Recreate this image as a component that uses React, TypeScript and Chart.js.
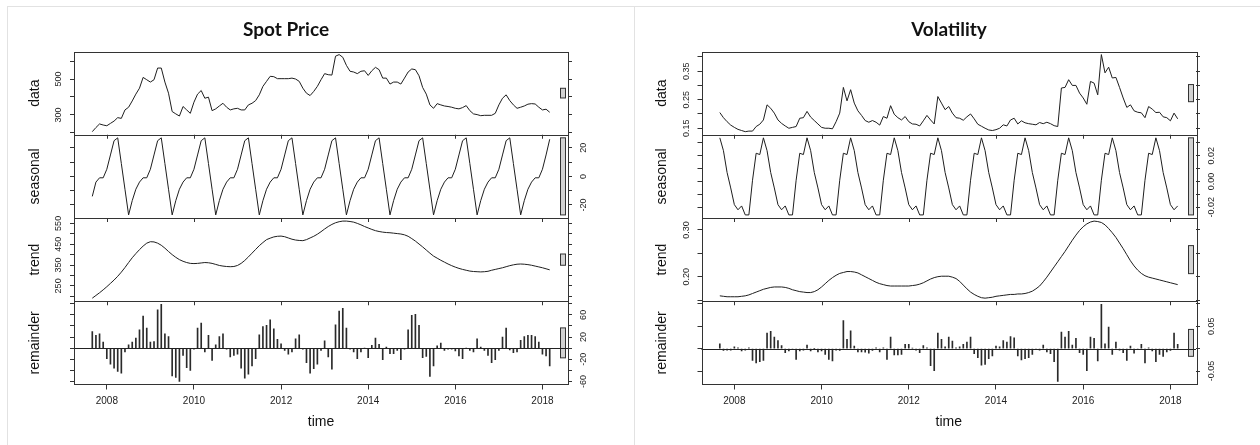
import React, { useEffect, useRef } from "react";
import { Chart, registerables } from "chart.js";

Chart.register(...registerables);

const FONT = "'Liberation Sans', Arial, Helvetica, sans-serif";

// monthly series, Sep 2007 .. Mar 2018
const startYear = 2007;
const startMonth = 9;

const xTickYears = [2008, 2010, 2012, 2014, 2016, 2018];

// ---------------- Spot Price ----------------
const spotData = [
  207, 230, 250, 244, 240, 253, 266, 285, 281, 328, 343, 378,
  416, 449, 509, 496, 483, 496, 561, 561, 483, 421, 319, 306,
  294, 347, 328, 309, 371, 416, 436, 393, 399, 324, 334, 350,
  365, 343, 328, 334, 337, 328, 328, 356, 365, 380, 412, 459,
  487, 515, 513, 502, 502, 502, 502, 505, 500, 487, 449, 421,
  408, 431, 459, 496, 530, 524, 522, 627, 636, 621, 576, 543,
  539, 530, 543, 546, 520, 546, 565, 552, 505, 505, 472, 483,
  483, 472, 505, 539, 556, 552, 518, 453, 416, 356, 337, 363,
  356, 350, 347, 343, 337, 334, 341, 352, 324, 306, 302, 296,
  298, 298, 298, 309, 356, 393, 412, 380, 356, 337, 343, 350,
  360, 363, 361, 343, 328, 332, 315,
];
const spotSeasonal = [
  -14, -4, -1, -1, 5, 15, 25, 27, 9, -9, -27, -17,
  -9, -4, -1, -1, 5, 15, 25, 27, 9, -9, -27, -17,
  -9, -4, -1, -1, 5, 15, 25, 27, 9, -9, -27, -17,
  -9, -4, -1, -1, 5, 15, 25, 27, 9, -9, -27, -17,
  -9, -4, -1, -1, 5, 15, 25, 27, 9, -9, -27, -17,
  -9, -4, -1, -1, 5, 15, 25, 27, 9, -9, -27, -17,
  -9, -4, -1, -1, 5, 15, 25, 27, 9, -9, -27, -17,
  -9, -4, -1, -1, 5, 15, 25, 27, 9, -9, -27, -17,
  -9, -4, -1, -1, 5, 15, 25, 27, 9, -9, -27, -17,
  -9, -4, -1, -1, 5, 15, 25, 27, 9, -9, -27, -17,
  -9, -4, -1, -1, 5, 15, 26,
];
const spotTrend = [
  191, 204, 217, 231, 246, 262, 278, 296, 316, 338, 362, 385,
  405, 424, 441, 455, 462, 461, 455, 445, 431, 415, 400, 387,
  376, 368, 362, 358, 357, 358, 360, 362, 361, 358, 353, 348,
  345, 343, 342, 343, 348, 358, 372, 389, 407, 425, 443, 458,
  472, 479, 485, 488, 489, 486, 480, 474, 470, 468, 467, 472,
  480, 488, 498, 510, 523, 535, 545, 553, 558, 561, 561, 559,
  556, 550, 543, 535, 528, 521, 515, 511, 508, 506, 505, 503,
  501, 499, 495, 488, 477, 465, 451, 437, 422, 407, 393, 383,
  373, 364, 355, 347, 340, 334, 329, 325, 321, 319, 318, 317,
  318, 320, 325, 329, 333, 337, 342, 347, 351, 354, 355, 354,
  352, 349, 345, 341, 337, 332, 327,
];
const spotRemainder = [
  30, 23, 26, 11, -19, -29, -36, -42, -45, -7, 6, 11,
  18, 33, 58, 36, 11, 12, 69, 79, 26, 21, -50, -53,
  -60, -13, -35, -40, -2, 36, 45, -7, 23, -22, 6, 21,
  26, -2, -16, -13, -11, -36, -54, -47, -32, -19, 24, 39,
  41, 51, 35, 16, 8, -4, -11, -7, 17, 24, -2, -26,
  -45, -37, -29, -4, 13, -16, -38, 42, 67, 72, 36, -2,
  -7, -19, -7, 0, -17, 5, 18, 7, -21, 2, -10, -10,
  -4, -21, -2, 33, 59, 61, 41, -17, -15, -51, -32, 4,
  9, -4, -2, -2, -5, -14, -19, 0, -4, -7, 17, 2,
  -4, -13, -26, -21, -4, 20, 36, -3, -8, -7, 14, 21,
  23, 23, 21, 11, -11, -14, -32,
];

const spotDataTicks = [200, 300, 400, 500, 600];
const spotDataLabels = [300, 500];
const spotSeasonalTicks = [-20, -10, 0, 10, 20];
const spotSeasonalLabels = [-20, 0, 20];
const spotTrendTicks = [200, 250, 300, 350, 400, 450, 500, 550];
const spotTrendLabels = [250, 350, 450, 550];
const spotRemainderTicks = [-60, -40, -20, 0, 20, 40, 60, 80];
const spotRemainderLabels = [-60, -20, 20, 60];

// ---------------- Volatility ----------------
const volData = [
  0.205, 0.187, 0.173, 0.161, 0.153, 0.146, 0.142, 0.138, 0.14, 0.14, 0.156, 0.164,
  0.179, 0.232, 0.22, 0.203, 0.179, 0.167, 0.158, 0.15, 0.153, 0.156, 0.185, 0.187,
  0.209, 0.189, 0.177, 0.165, 0.153, 0.15, 0.15, 0.148, 0.173, 0.203, 0.293, 0.246,
  0.285, 0.238, 0.211, 0.195, 0.177, 0.171, 0.177, 0.171, 0.161, 0.191, 0.185, 0.229,
  0.199, 0.187, 0.179, 0.191, 0.173, 0.165, 0.164, 0.158, 0.176, 0.195, 0.179, 0.165,
  0.261, 0.238, 0.215, 0.226, 0.203, 0.187, 0.185, 0.178, 0.19, 0.2, 0.183, 0.164,
  0.157, 0.15, 0.144, 0.142, 0.145, 0.15, 0.162, 0.158, 0.179, 0.185, 0.165, 0.176,
  0.169, 0.166, 0.164, 0.162, 0.17, 0.166, 0.171, 0.166, 0.159, 0.156, 0.291, 0.293,
  0.32, 0.3, 0.3, 0.273, 0.256, 0.234, 0.314, 0.308, 0.267, 0.408, 0.344, 0.364,
  0.326, 0.328, 0.293, 0.256, 0.223, 0.232, 0.211, 0.206, 0.204, 0.187, 0.226, 0.217,
  0.205, 0.206, 0.19, 0.187, 0.176, 0.203, 0.183,
];
const volSeasonal = [
  0.034, 0.024, 0.007, -0.005, -0.018, -0.022, -0.019, -0.026, -0.026, 0.001, 0.022, 0.021,
  0.034, 0.024, 0.007, -0.005, -0.018, -0.022, -0.019, -0.026, -0.026, 0.001, 0.022, 0.021,
  0.034, 0.024, 0.007, -0.005, -0.018, -0.022, -0.019, -0.026, -0.026, 0.001, 0.022, 0.021,
  0.034, 0.024, 0.007, -0.005, -0.018, -0.022, -0.019, -0.026, -0.026, 0.001, 0.022, 0.021,
  0.034, 0.024, 0.007, -0.005, -0.018, -0.022, -0.019, -0.026, -0.026, 0.001, 0.022, 0.021,
  0.034, 0.024, 0.007, -0.005, -0.018, -0.022, -0.019, -0.026, -0.026, 0.001, 0.022, 0.021,
  0.034, 0.024, 0.007, -0.005, -0.018, -0.022, -0.019, -0.026, -0.026, 0.001, 0.022, 0.021,
  0.034, 0.024, 0.007, -0.005, -0.018, -0.022, -0.019, -0.026, -0.026, 0.001, 0.022, 0.021,
  0.034, 0.024, 0.007, -0.005, -0.018, -0.022, -0.019, -0.026, -0.026, 0.001, 0.022, 0.021,
  0.034, 0.024, 0.007, -0.005, -0.018, -0.022, -0.019, -0.026, -0.026, 0.001, 0.022, 0.021,
  0.034, 0.024, 0.007, -0.005, -0.018, -0.022, -0.019,
];
const volTrend = [
  0.159, 0.158, 0.157, 0.157, 0.157, 0.157, 0.158, 0.159, 0.161, 0.164, 0.167, 0.17,
  0.173, 0.175, 0.177, 0.178, 0.178, 0.178, 0.177, 0.175, 0.172, 0.17, 0.168, 0.167,
  0.166, 0.166, 0.168, 0.172, 0.178, 0.185, 0.192, 0.198, 0.203, 0.207, 0.209, 0.211,
  0.211, 0.21, 0.208, 0.204, 0.2, 0.196, 0.192, 0.188, 0.185, 0.183, 0.181, 0.18,
  0.18, 0.18, 0.18, 0.18, 0.18, 0.181, 0.182, 0.184, 0.187, 0.191, 0.195, 0.198,
  0.2, 0.201, 0.201, 0.201, 0.199, 0.196, 0.19, 0.182, 0.174, 0.167, 0.162, 0.158,
  0.155, 0.154, 0.155, 0.156, 0.158, 0.159, 0.16, 0.161, 0.162, 0.162, 0.163, 0.163,
  0.164, 0.166, 0.169, 0.174, 0.18, 0.189, 0.199, 0.21, 0.221, 0.232, 0.243, 0.254,
  0.266, 0.278, 0.289, 0.299, 0.307, 0.313, 0.317, 0.319, 0.318, 0.316, 0.311, 0.303,
  0.294, 0.284, 0.272, 0.26, 0.247, 0.234, 0.223, 0.214, 0.207, 0.202, 0.199, 0.197,
  0.195, 0.193, 0.191, 0.189, 0.187, 0.185, 0.183,
];
const volRemainder = [
  0.011, -0.004, -0.003, -0.003, 0.004, 0.002, -0.005, -0.003, 0.002, -0.026, -0.032, -0.029,
  -0.026, 0.035, 0.039, 0.026, 0.018, 0.007, -0.009, -0.005, -0.002, -0.024, -0.005, -0.003,
  0.008, -0.005, 0.0, -0.007, -0.005, -0.013, -0.024, -0.027, -0.003, -0.004, 0.063, 0.021,
  0.04, 0.006, -0.007, -0.007, -0.008, -0.01, -0.004, 0.002, -0.007, 0.002, -0.024, 0.026,
  -0.014, -0.014, -0.013, 0.01, 0.01, 0.001, -0.003, -0.009, 0.007, 0.002, -0.038, -0.049,
  0.035, 0.021, 0.004, 0.026, 0.017, 0.002, 0.004, 0.01, 0.015, 0.026, -0.011, -0.02,
  -0.037, -0.035, -0.022, -0.016, 0.006, 0.004, 0.018, 0.015, 0.027, 0.024, -0.016, -0.025,
  -0.022, -0.02, -0.013, -0.001, -0.003, 0.008, -0.007, -0.011, -0.029, -0.073, 0.037, 0.026,
  0.039, 0.008, 0.023, -0.009, -0.013, -0.049, 0.026, 0.023, -0.027, 0.099, 0.011, 0.048,
  -0.013, 0.015, -0.003, -0.009, -0.026, 0.006, -0.01, -0.001, 0.01, -0.032, 0.002, -0.005,
  -0.029, -0.013, -0.017, -0.007, -0.004, 0.035, 0.01,
];

const volDataTicks = [0.15, 0.2, 0.25, 0.3, 0.35, 0.4];
const volDataLabels = [0.15, 0.25, 0.35];
const volSeasonalTicks = [-0.02, -0.01, 0, 0.01, 0.02, 0.03];
const volSeasonalLabels = [-0.02, 0, 0.02];
const volTrendTicks = [0.15, 0.2, 0.25, 0.3];
const volTrendLabels = [0.2, 0.3];
const volRemainderTicks = [-0.05, 0, 0.05, 0.1];
const volRemainderLabels = [-0.05, 0.05];

// ---------------- chart construction ----------------
type Panel = {
  name: string;
  values: number[];
  ticks: number[];
  labels: number[];
  side: "left" | "right";
  kind: "line" | "bar";
};

type Layout = {
  padLeft: number;
  padRight: number;
  padTop: number;
  padBottom: number;
  leftAxisWidth: number;
  rightAxisWidth: number;
  xAxisHeight: number;
};

const TICK_LEN = 4;
const LEFT_LABEL_CENTER = 15;
const RIGHT_LABEL_CENTER = 16;
const TICK_FONT_SIZE = 9;
const LINE_COLOR = "#1e1e1e";

let measureCtx: CanvasRenderingContext2D | null = null;
function measure(text: string, size: number): number {
  if (!measureCtx) measureCtx = document.createElement("canvas").getContext("2d");
  if (!measureCtx) return text.length * size * 0.55;
  measureCtx.font = `${size}px ${FONT}`;
  return measureCtx.measureText(text).width;
}

function buildConfig(panels: Panel[], fmt: (v: number) => string, layout: Layout): any {
  const n = panels[0].values.length;
  const times = panels[0].values.map((_, i) => startYear + (startMonth - 1 + i) / 12);
  const t0 = times[0];
  const t1 = times[n - 1];
  const span = t1 - t0;
  const ranges = panels.map((p) => [Math.min(...p.values), Math.max(...p.values)]);
  const minRange = Math.min(...ranges.map((r) => r[1] - r[0]));

  const scales: any = {
    x: {
      type: "linear",
      position: "bottom",
      offset: false,
      min: t0 - 0.04 * span,
      max: t1 + 0.04 * span,
      afterBuildTicks: (ax: any) => {
        ax.ticks = xTickYears.map((v) => ({ value: v }));
      },
      ticks: {
        autoSkip: false,
        maxRotation: 0,
        minRotation: 0,
        padding: 6,
        font: { family: FONT, size: 10 },
        color: "#222",
        callback: (v: any) => String(v),
      },
      grid: {
        display: true,
        offset: false,
        drawOnChartArea: false,
        drawTicks: true,
        tickLength: 5,
        color: "#333",
      },
      border: { display: false },
      title: {
        display: true,
        text: "time",
        font: { family: FONT, size: 14 },
        color: "#111",
        padding: { top: 0, bottom: 0 },
      },
      afterFit: (s: any) => {
        s.height = layout.xAxisHeight;
      },
    },
  };

  const axisFor = (p: Panel, k: number, pos: "left" | "right") => {
    const [lo, hi] = ranges[k];
    const pad = 0.04 * (hi - lo);
    const labelTexts = p.labels.map(fmt);
    const widest = Math.max(0, ...labelTexts.map((s) => measure(s, TICK_FONT_SIZE)));
    const center = pos === "left" ? LEFT_LABEL_CENTER : RIGHT_LABEL_CENTER;
    return {
      type: "linear",
      position: pos,
      stack: pos === "left" ? "L" : "R",
      stackWeight: 1,
      offset: false,
      min: lo - pad,
      max: hi + pad,
      afterBuildTicks: (ax: any) => {
        ax.ticks = p.ticks.map((v) => ({ value: v }));
      },
      grid: {
        display: true,
        offset: false,
        drawOnChartArea: false,
        drawTicks: true,
        tickLength: TICK_LEN,
        color: "#333",
        lineWidth: 1,
      },
      border: { display: false },
      ticks: {
        autoSkip: false,
        minRotation: 90,
        maxRotation: 90,
        crossAlign: "center",
        padding: Math.max(0, center - TICK_LEN - widest / 2),
        font: { family: FONT, size: TICK_FONT_SIZE },
        color: "#222",
        callback: (v: any) =>
          p.side === pos && p.labels.some((l) => Math.abs(l - Number(v)) < 1e-9) ? fmt(Number(v)) : "",
      },
      title:
        pos === "left"
          ? {
              display: true,
              text: p.name,
              font: { family: FONT, size: 14 },
              color: "#111",
              padding: { top: 0, bottom: 0 },
            }
          : { display: false },
      afterFit: (s: any) => {
        s.width = pos === "left" ? layout.leftAxisWidth : layout.rightAxisWidth;
      },
    };
  };

  // left stack is laid out in reverse creation order, right stack in creation order
  for (let k = panels.length - 1; k >= 0; k--) scales["L" + k] = axisFor(panels[k], k, "left");
  for (let k = 0; k < panels.length; k++) scales["R" + k] = axisFor(panels[k], k, "right");

  const datasets = panels.map((p, k) => {
    const pts = p.values.map((v, i) => ({ x: times[i], y: v }));
    if (p.kind === "bar") {
      return {
        type: "bar",
        label: p.name,
        data: pts,
        xAxisID: "x",
        yAxisID: "L" + k,
        backgroundColor: "#2a2a2a",
        borderWidth: 0,
        barThickness: 1,
        grouped: false,
      };
    }
    return {
      type: "line",
      label: p.name,
      data: pts,
      xAxisID: "x",
      yAxisID: "L" + k,
      borderColor: LINE_COLOR,
      borderWidth: 1,
      pointRadius: 0,
      tension: 0,
      fill: false,
    };
  });

  const decor = {
    id: "stlDecor",
    afterDatasetsDraw(chart: any) {
      const ctx = chart.ctx;
      const { left, right } = chart.chartArea;
      ctx.save();
      // range bars
      const dx = (right - left) / 64;
      panels.forEach((p, k) => {
        const s = chart.scales["L" + k];
        const mid = (ranges[k][0] + ranges[k][1]) / 2;
        const yTop = s.getPixelForValue(mid + minRange / 2);
        const yBot = s.getPixelForValue(mid - minRange / 2);
        const x0 = Math.round(right - dx) + 0.5;
        const x1 = Math.round(right - 0.4 * dx) + 0.5;
        ctx.fillStyle = "#d3d3d3";
        ctx.strokeStyle = "#333";
        ctx.lineWidth = 1;
        ctx.fillRect(x0, yTop, x1 - x0, yBot - yTop);
        ctx.strokeRect(x0, yTop, x1 - x0, yBot - yTop);
      });
      // zero line of remainder panel
      panels.forEach((p, k) => {
        if (p.kind !== "bar") return;
        const s = chart.scales["L" + k];
        const y0 = Math.round(s.getPixelForValue(0)) + 0.5;
        ctx.strokeStyle = "#222";
        ctx.lineWidth = 1;
        ctx.beginPath();
        ctx.moveTo(left, y0);
        ctx.lineTo(right, y0);
        ctx.stroke();
      });
      // panel boxes
      ctx.strokeStyle = "#333";
      ctx.lineWidth = 1;
      panels.forEach((_, k) => {
        const s = chart.scales["L" + k];
        ctx.strokeRect(
          Math.round(left) + 0.5,
          Math.round(s.top) + 0.5,
          Math.round(right - left),
          Math.round(s.bottom - s.top)
        );
      });
      // bottom tick marks of upper panels
      const xs = chart.scales.x;
      panels.forEach((_, k) => {
        if (k === panels.length - 1) return;
        const s = chart.scales["L" + k];
        xTickYears.forEach((yr) => {
          const px = Math.round(xs.getPixelForValue(yr)) + 0.5;
          ctx.beginPath();
          ctx.moveTo(px, s.bottom);
          ctx.lineTo(px, s.bottom + TICK_LEN);
          ctx.stroke();
        });
      });
      ctx.restore();
    },
  };

  return {
    type: "line",
    data: { datasets },
    options: {
      animation: false,
      responsive: false,
      maintainAspectRatio: false,
      events: [],
      layout: {
        padding: {
          left: layout.padLeft,
          right: layout.padRight,
          top: layout.padTop,
          bottom: layout.padBottom,
        },
      },
      plugins: {
        legend: { display: false },
        tooltip: { enabled: false },
        title: { display: false },
      },
      scales,
    },
    plugins: [decor],
  };
}

function StlChart(props: {
  panels: Panel[];
  fmt: (v: number) => string;
  width: number;
  height: number;
  layout: Layout;
}) {
  const ref = useRef<HTMLCanvasElement>(null);
  useEffect(() => {
    if (!ref.current) return;
    const chart = new Chart(ref.current, buildConfig(props.panels, props.fmt, props.layout));
    return () => chart.destroy();
  }, []);
  return (
    <canvas
      ref={ref}
      width={props.width}
      height={props.height}
      style={{ width: props.width, height: props.height, display: "block" }}
    />
  );
}

const spotPanels: Panel[] = [
  { name: "data", values: spotData, ticks: spotDataTicks, labels: spotDataLabels, side: "left", kind: "line" },
  { name: "seasonal", values: spotSeasonal, ticks: spotSeasonalTicks, labels: spotSeasonalLabels, side: "right", kind: "line" },
  { name: "trend", values: spotTrend, ticks: spotTrendTicks, labels: spotTrendLabels, side: "left", kind: "line" },
  { name: "remainder", values: spotRemainder, ticks: spotRemainderTicks, labels: spotRemainderLabels, side: "right", kind: "bar" },
];

const volPanels: Panel[] = [
  { name: "data", values: volData, ticks: volDataTicks, labels: volDataLabels, side: "left", kind: "line" },
  { name: "seasonal", values: volSeasonal, ticks: volSeasonalTicks, labels: volSeasonalLabels, side: "right", kind: "line" },
  { name: "trend", values: volTrend, ticks: volTrendTicks, labels: volTrendLabels, side: "left", kind: "line" },
  { name: "remainder", values: volRemainder, ticks: volRemainderTicks, labels: volRemainderLabels, side: "right", kind: "bar" },
];

const leftLayout: Layout = {
  padLeft: 19,
  padRight: 30,
  padTop: 43.5,
  padBottom: 14.5,
  leftAxisWidth: 47,
  rightAxisWidth: 35,
  xAxisHeight: 46,
};

const rightLayout: Layout = {
  padLeft: 17.6,
  padRight: 27,
  padTop: 43.5,
  padBottom: 14.5,
  leftAxisWidth: 47.9,
  rightAxisWidth: 35,
  xAxisHeight: 46,
};

const titleStyle = (cx: number): React.CSSProperties => ({
  position: "absolute",
  left: cx - 150,
  top: 16,
  width: 300,
  textAlign: "center",
  fontFamily: "Lato, 'Open Sans', sans-serif",
  fontWeight: 700,
  fontSize: 19,
  lineHeight: "26px",
  color: "#111",
});

export default function App() {
  return (
    <div
      style={{
        position: "fixed",
        left: 0,
        top: 0,
        width: 1260,
        height: 445,
        background: "#ffffff",
        overflow: "hidden",
      }}
    >
      <div
        style={{
          position: "absolute",
          left: 7,
          top: 6,
          width: 1260,
          height: 445,
          borderTop: "1px solid #e2e2e2",
          borderLeft: "1px solid #e2e2e2",
        }}
      />
      <div
        style={{
          position: "absolute",
          left: 634,
          top: 6,
          width: 0,
          height: 445,
          borderLeft: "1px solid #e2e2e2",
        }}
      />
      <div style={{ position: "absolute", left: 8, top: 8 }}>
        <StlChart panels={spotPanels} fmt={(v) => String(v)} width={625} height={437} layout={leftLayout} />
      </div>
      <div style={{ position: "absolute", left: 636, top: 8 }}>
        <StlChart panels={volPanels} fmt={(v) => v.toFixed(2)} width={622} height={437} layout={rightLayout} />
      </div>
      <div style={titleStyle(286)}>Spot Price</div>
      <div style={titleStyle(949)}>Volatility</div>
    </div>
  );
}
